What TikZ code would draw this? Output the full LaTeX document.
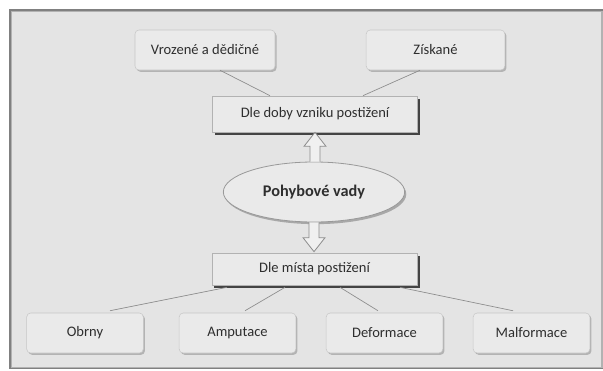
\documentclass[tikz,border=0pt]{standalone}
\usepackage{fontspec}
\setmainfont{Carlito}
\usetikzlibrary{shapes.geometric,shadows,calc}
\definecolor{panel}{HTML}{E4E4E4}
\definecolor{boxfill}{HTML}{EAEAEA}
\definecolor{txt}{HTML}{2E2E2E}
\tikzset{
  leaf/.style={rectangle, rounded corners=3pt, minimum width=#1, minimum height=30pt,
    fill=boxfill, draw=black!22, line width=0.4pt, text=txt, font=\fontsize{10.9}{13}\selectfont,
    drop shadow={shadow xshift=1.2pt, shadow yshift=-1.4pt, fill=black!45, opacity=0.55}},
  leaf/.default=87.5pt,
  level/.style={rectangle, minimum width=154pt, minimum height=#1,
    fill=boxfill, draw=black!30, line width=0.5pt, text=txt, font=\fontsize{10.9}{13}\selectfont,
    drop shadow={shadow xshift=1.8pt, shadow yshift=-2pt, fill=black!80, opacity=0.9}},
  root/.style={ellipse, minimum width=136pt, minimum height=45pt, inner sep=0pt,
    fill=boxfill, draw=black!40, line width=0.6pt, text=txt, font=\fontsize{12.2}{14}\selectfont\bfseries,
    drop shadow={shadow xshift=1.2pt, shadow yshift=-1.6pt, fill=black!50, opacity=0.6}},
  link/.style={draw=black!45, line width=0.5pt},
  hollow/.style={fill=black!6, draw=black!45, line width=0.6pt, line join=miter}
}
\begin{document}
\begin{tikzpicture}[x=0.75pt, y=-0.75pt]
  % page and panel
  \useasboundingbox (0,0) rectangle (603,371);
  \fill[white] (0,0) rectangle (603,371);
  \fill[black!50] (9,9) rectangle (603,369);
  \fill[black!30] (10.5,10.5) rectangle (603,368);
  \fill[panel] (12,12) rectangle (601,366.5);

  % nodes
  \node[leaf=105pt] (vroz)   at (205,50)    {Vrozené a dědičné};
  \node[leaf=104pt] (zisk)   at (435.5,50)  {Získané};
  \node[level=27pt] (doby)   at (315,114)   {Dle doby vzniku postižení};
  \node[root]       (pv)     at (314,192)   {Pohybové vady};
  \node[level=24pt] (mista)  at (314.5,269) {Dle místa postižení};
  \node[leaf]       (obrny)  at (85,333)    {Obrny};
  \node[leaf]       (amput)  at (237.5,333) {Amputace};
  \node[leaf]       (deform) at (384.5,333) {Deformace};
  \node[leaf]       (malf)   at (531.5,333) {Malformace};

  % thin connectors
  \draw[link] ($(vroz.south)+(15,0)$)   -- ($(doby.north)+(-45,0)$);
  \draw[link] ($(zisk.south)+(-15.5,0)$) -- ($(doby.north)+(48,0)$);
  \draw[link] ($(obrny.north)+(25,-2)$)  -- ($(mista.south)+(-87.5,2)$);
  \draw[link] ($(amput.north)+(7.5,-2)$) -- ($(mista.south)+(-29.5,2)$);
  \draw[link] ($(deform.north)+(-6.5,-2)$) -- ($(mista.south)+(25.5,2)$);
  \draw[link] ($(malf.north)+(-18.5,-2)$) -- ($(mista.south)+(85.5,2)$);

  % hollow block arrows
  \coordinate (upTip) at ($(doby.south -| pv.north)+(1,0)$);
  \coordinate (upBase) at ($(pv.north)+(1,0)$);
  \draw[hollow] ($(upBase)+(-5,0)$) -- ($(upTip)+(-5,14)$) -- ($(upTip)+(-11,14)$)
    -- (upTip) -- ($(upTip)+(11,14)$) -- ($(upTip)+(5,14)$) -- ($(upBase)+(5,0)$);
  \coordinate (dnTip) at ($(mista.north -| pv.south)+(0,-1)$);
  \coordinate (dnBase) at (pv.south);
  \draw[hollow] ($(dnBase)+(-5,0)$) -- ($(dnTip)+(-5,-14)$) -- ($(dnTip)+(-11,-14)$)
    -- (dnTip) -- ($(dnTip)+(11,-14)$) -- ($(dnTip)+(5,-14)$) -- ($(dnBase)+(5,0)$);
\end{tikzpicture}
\end{document}
